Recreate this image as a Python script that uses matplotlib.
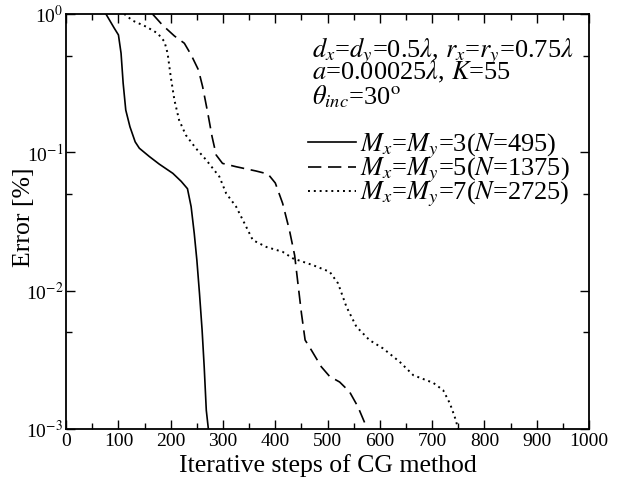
import matplotlib
matplotlib.use('Agg')
import matplotlib.pyplot as plt
from matplotlib.ticker import LogLocator, MultipleLocator, FixedFormatter, FixedLocator

plt.rcParams['font.family'] = ['Liberation Serif', 'DejaVu Serif']
plt.rcParams['mathtext.fontset'] = 'stix'

# Iterative step / error (%)
steps_m3 = [76, 92, 100, 105, 109, 114, 122, 132, 140, 159, 178, 204, 220, 232,
            239, 245, 250, 255, 260, 264, 268, 272]
err_m3 = [1.0, 0.789, 0.705, 0.520, 0.316, 0.202, 0.153, 0.119, 0.107, 0.0933,
          0.0822, 0.0705, 0.0617, 0.0546, 0.0405, 0.0259, 0.0166, 0.00955,
          0.00519, 0.00282, 0.00137, 0.001]

steps_m5 = [165, 184, 207, 226, 239, 253, 261, 271, 279, 287, 299, 325, 363, 386,
            400, 414, 427, 437, 443, 450, 457, 469, 488, 504, 523, 542, 558, 571, 573]
err_m5 = [1.0, 0.832, 0.693, 0.614, 0.506, 0.394, 0.298, 0.191, 0.130, 0.0955,
          0.0832, 0.0787, 0.0733, 0.0697, 0.0600, 0.0428, 0.0274, 0.0180, 0.0115,
          0.00686, 0.00440, 0.00372, 0.00282, 0.00240, 0.00219, 0.00186, 0.00145,
          0.00111, 0.001]

steps_m7 = [111, 127, 153, 175, 188, 194, 200, 207, 216, 229, 248, 268, 293, 306,
            325, 341, 357, 383, 414, 434, 472, 504, 520, 536, 555, 580, 606, 638,
            664, 702, 721, 734, 743, 750]
err_m7 = [1.0, 0.895, 0.809, 0.724, 0.631, 0.520, 0.352, 0.239, 0.171, 0.133,
          0.107, 0.0879, 0.0667, 0.0505, 0.0405, 0.0307, 0.0232, 0.0207, 0.0191,
          0.0171, 0.0153, 0.0137, 0.0113, 0.00766, 0.00550, 0.00440, 0.00383,
          0.00306, 0.00245, 0.00216, 0.00191, 0.00153, 0.00123, 0.001]

labels = [r'$M_x$=$M_y$=3($N$=495)',
          r'$M_x$=$M_y$=5($N$=1375)',
          r'$M_x$=$M_y$=7($N$=2725)']
notes = [r'$d_x$=$d_y$=0.5$\lambda$, $r_x$=$r_y$=0.75$\lambda$',
         r'$a$=0.00025$\lambda$, $K$=55',
         r'$\theta_{inc}$=30$^{\rm o}$']
x_ticks = [0, 100, 200, 300, 400, 500, 600, 700, 800, 900, 1000]
y_ticks = [1e-3, 1e-2, 1e-1, 1e0]
y_tick_labels = [r'10$^{-3}$', r'10$^{-2}$', r'10$^{-1}$', r'10$^{0}$']

fig = plt.figure(figsize=(6.3, 4.8), dpi=100)
ax = fig.add_axes([0.105, 0.106, 0.83, 0.865])

ax.plot(steps_m3, err_m3, color='black', lw=1.2, linestyle='-', label=labels[0])
ax.plot(steps_m5, err_m5, color='black', lw=1.2, linestyle=(0, (8, 4)), label=labels[1])
ax.plot(steps_m7, err_m7, color='black', lw=1.4, linestyle=(0, (1, 2)), label=labels[2])

ax.set_yscale('log')
ax.set_xlim(0, 1000)
ax.set_ylim(1e-3, 1)

ax.xaxis.set_major_locator(FixedLocator(x_ticks))
ax.xaxis.set_minor_locator(MultipleLocator(50))
ax.yaxis.set_major_locator(FixedLocator(y_ticks))
ax.yaxis.set_major_formatter(FixedFormatter(y_tick_labels))
ax.yaxis.set_minor_locator(LogLocator(base=10, subs=(5.0,)))
ax.yaxis.set_minor_formatter(FixedFormatter([]))

ax.tick_params(which='both', direction='in', top=True, right=True, width=1.0,
               labelsize=14)
ax.tick_params(axis='x', pad=3)
ax.tick_params(axis='y', pad=2)
ax.tick_params(which='major', length=6.5)
ax.tick_params(which='minor', length=4)
for s in ax.spines.values():
    s.set_linewidth(1.3)

ax.set_xlabel('Iterative steps of CG method', fontsize=18.5, labelpad=3)
ax.set_ylabel('Error [%]', fontsize=18.5)
ax.yaxis.set_label_coords(-0.059, 0.51)

for txt, yy in zip(notes, [0.896, 0.841, 0.781]):
    ax.text(0.470, yy, txt, transform=ax.transAxes, fontsize=19,
            va='baseline', ha='left')

ax.legend(loc='upper left', bbox_to_anchor=(0.463, 0.716), frameon=False,
          fontsize=19, handlelength=1.8, handletextpad=0.15, labelspacing=-0.2,
          borderpad=0, borderaxespad=0)

fig.savefig('out.png', dpi=100)
